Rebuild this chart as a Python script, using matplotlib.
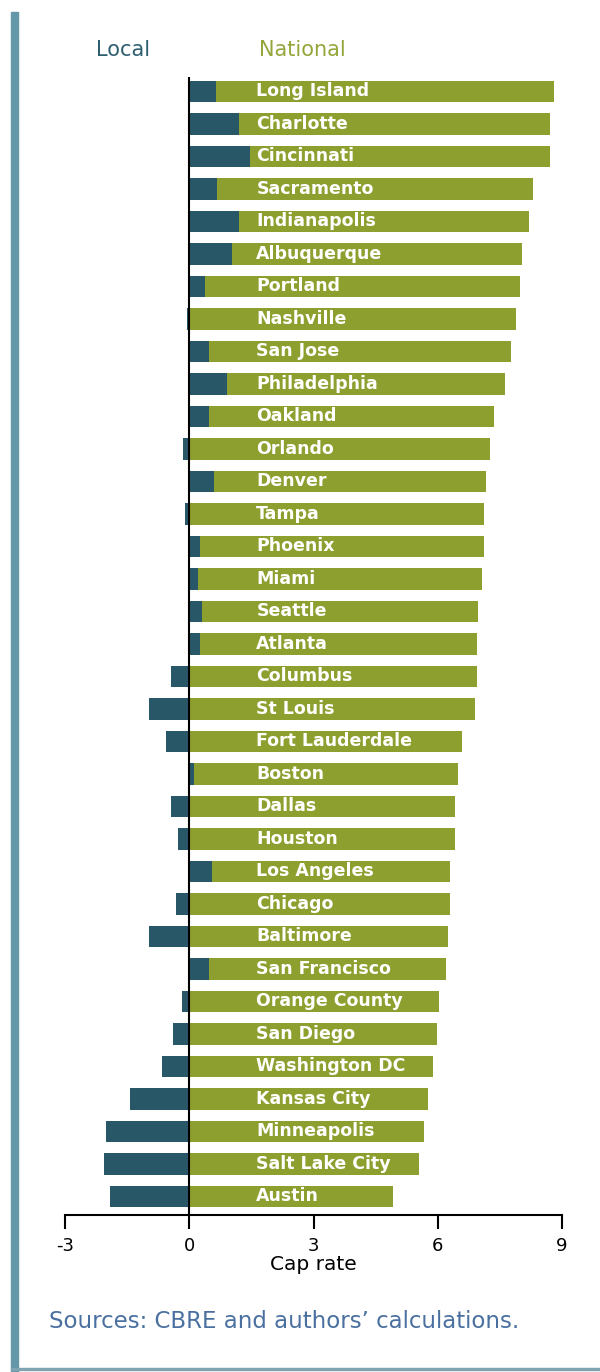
import numpy as np
import matplotlib.pyplot as plt
from matplotlib.patches import Rectangle

cities = ['Long Island', 'Charlotte', 'Cincinnati', 'Sacramento', 'Indianapolis',
          'Albuquerque', 'Portland', 'Nashville', 'San Jose', 'Philadelphia',
          'Oakland', 'Orlando', 'Denver', 'Tampa', 'Phoenix', 'Miami', 'Seattle',
          'Atlanta', 'Columbus', 'St Louis', 'Fort Lauderdale', 'Boston', 'Dallas',
          'Houston', 'Los Angeles', 'Chicago', 'Baltimore', 'San Francisco',
          'Orange County', 'San Diego', 'Washington DC', 'Kansas City',
          'Minneapolis', 'Salt Lake City', 'Austin']
local = [0.64, 1.21, 1.47, 0.68, 1.21, 1.03, 0.39, -0.05, 0.47, 0.90,
         0.47, -0.14, 0.60, -0.10, 0.26, 0.21, 0.30, 0.26, -0.43, -0.96,
         -0.57, 0.12, -0.43, -0.26, 0.56, -0.31, -0.96, 0.47, -0.18, -0.39,
         -0.66, -1.43, -2.00, -2.05, -1.92]
national = [8.16, 7.51, 7.25, 7.61, 6.99, 7.00, 7.59, 7.90, 7.29, 6.73,
            6.90, 7.25, 6.56, 7.11, 6.85, 6.86, 6.68, 6.68, 6.94, 6.89,
            6.59, 6.38, 6.42, 6.42, 5.73, 6.29, 6.24, 5.73, 6.02, 5.98,
            5.89, 5.77, 5.68, 5.55, 4.93]
xticks = [-3, 0, 3, 6, 9]

dark = '#285868'
green = '#8d9f2e'

W, H = 600, 1372
fig = plt.figure(figsize=(W / 100, H / 100), dpi=100)

# frame decorations (left stripe + bottom rule)
fig.patches.append(Rectangle((11 / W, 0), 7 / W, 1 - 12 / H, transform=fig.transFigure,
                             color='#6497a7', zorder=0))
fig.patches.append(Rectangle((11 / W, 1 - 1370 / H), 1 - 11 / W, 2 / H,
                             transform=fig.transFigure, color='#7fa3b0', zorder=0))

top, bottom = 77, 1215
ax = fig.add_axes([65 / W, 1 - bottom / H, (562 - 65) / W, (bottom - top) / H])

y = np.arange(len(cities))
loc = np.array(local)
nat = np.array(national)
ax.barh(y, loc, height=0.65, color=dark, zorder=2)
ax.barh(y, nat, left=np.maximum(loc, 0), height=0.65, color=green, zorder=2)

for i, c in enumerate(cities):
    ax.text(1.62, i, c, color='white', fontsize=12.5, fontweight='bold',
            va='center', ha='left', zorder=3)

ax.axvline(0, color='black', lw=1.5, zorder=4)
ax.set_xlim(-3, 9)
ax.set_ylim(34.57, -0.446)
ax.set_xticks(xticks)
ax.set_xticklabels([str(t) for t in xticks], fontsize=13)
ax.tick_params(axis='x', direction='out', length=10, width=1.5, pad=6)
ax.set_yticks([])
for s in ['top', 'right', 'left']:
    ax.spines[s].set_visible(False)
ax.spines['bottom'].set_linewidth(1.5)
ax.set_xlabel('Cap rate', fontsize=14.5, labelpad=0)

fig.text(96 / W, 1 - 50 / H, 'Local', color='#2e5f70', fontsize=15, va='center')
fig.text(259 / W, 1 - 50 / H, 'National', color='#93a63a', fontsize=15, va='center')
fig.text(49 / W, 1 - 1322 / H, 'Sources: CBRE and authors\u2019 calculations.',
         color='#4a70a0', fontsize=16.5, va='center')

fig.savefig('out.png', dpi=100)
